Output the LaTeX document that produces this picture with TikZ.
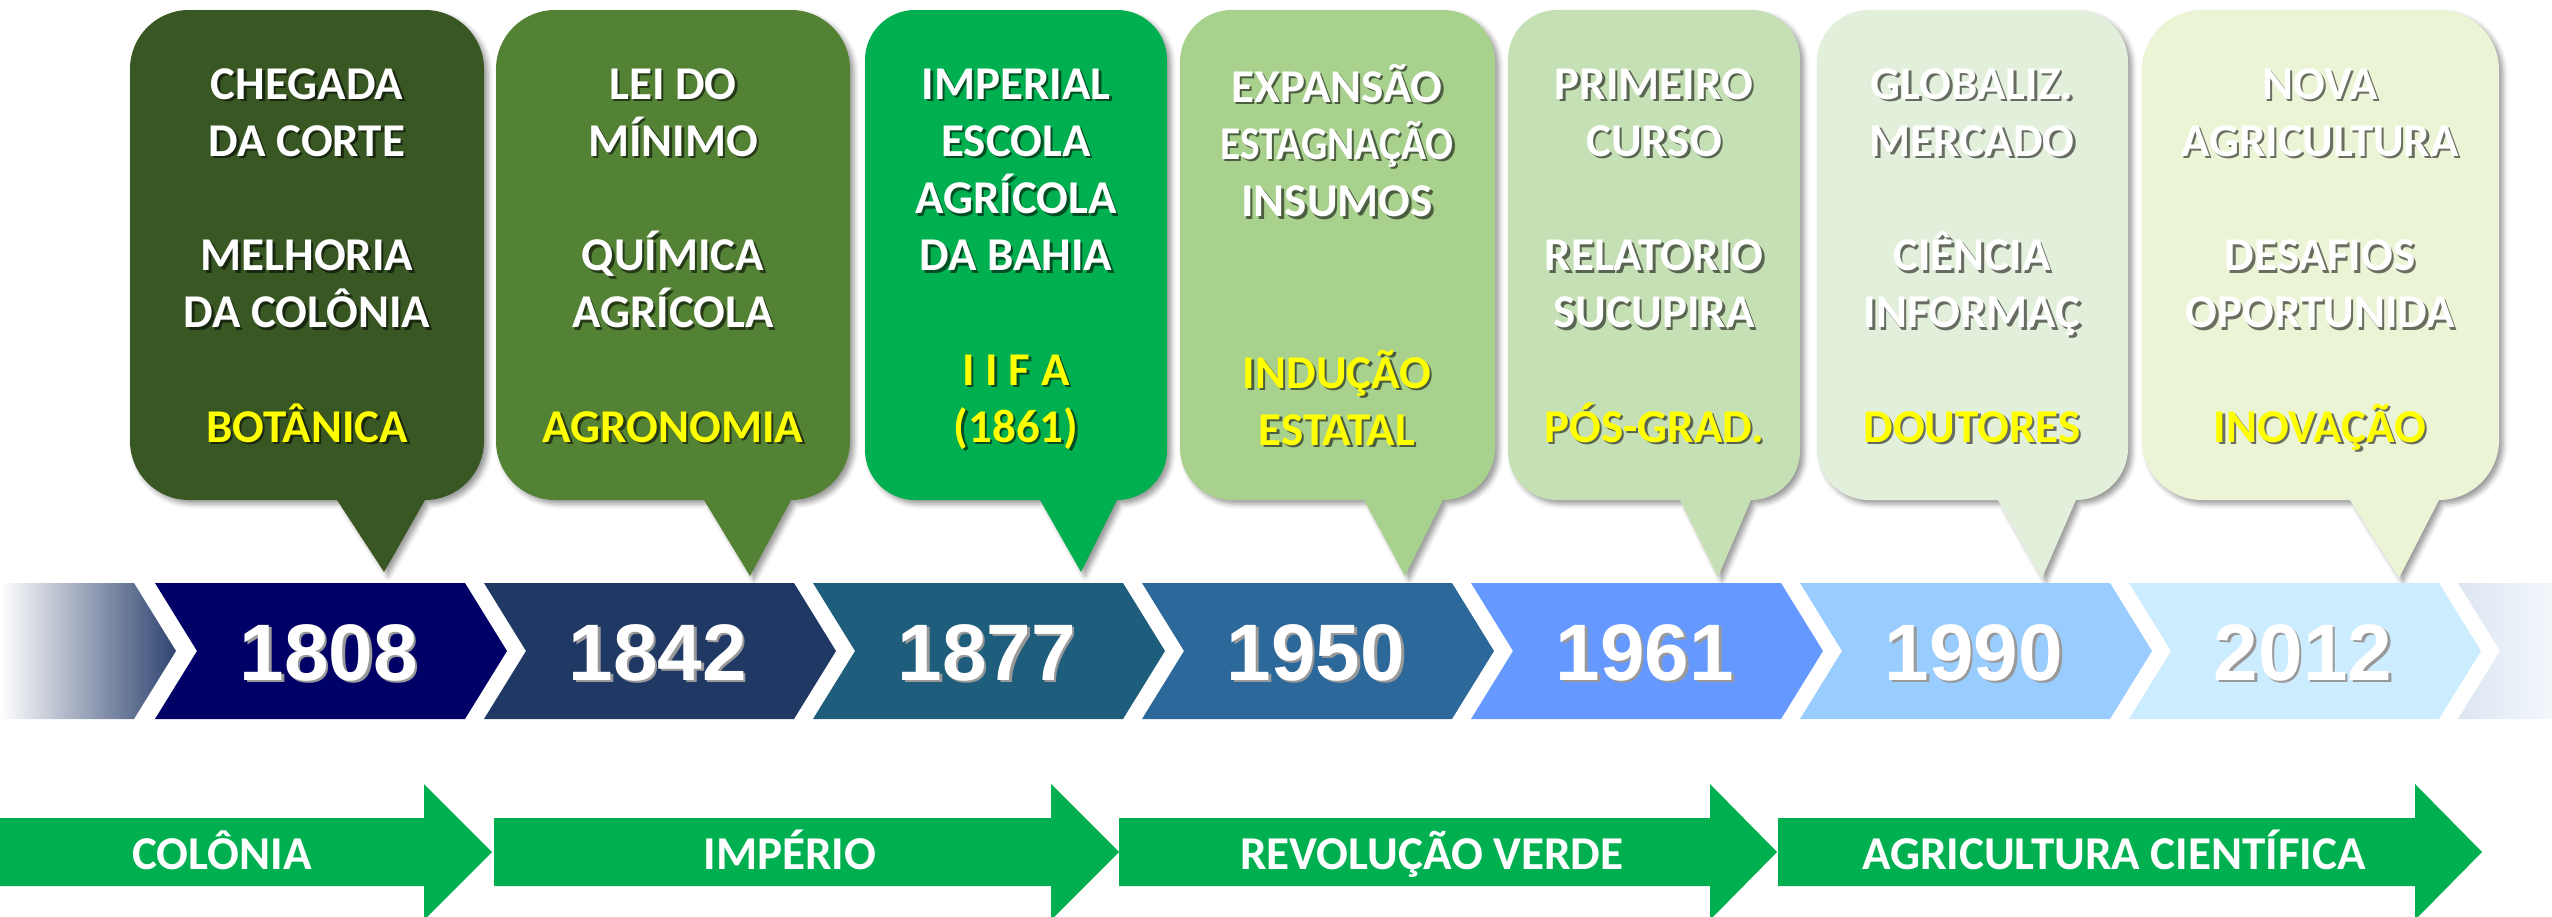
\documentclass[tikz,border=0pt]{standalone}
\usepackage{fontspec}
\usetikzlibrary{shadows.blur}
\newfontfamily\calibrifont{Carlito}
\newfontfamily\arialfont{Liberation Sans}
\definecolor{BubbleA}{HTML}{385723}
\definecolor{BubbleB}{HTML}{548235}
\definecolor{BubbleC}{HTML}{00B050}
\definecolor{BubbleD}{HTML}{A9D18E}
\definecolor{BubbleE}{HTML}{C5E0B4}
\definecolor{BubbleF}{HTML}{E2EFDA}
\definecolor{BubbleG}{HTML}{EBF5D6}
\definecolor{YearA}{HTML}{000066}
\definecolor{YearB}{HTML}{203864}
\definecolor{YearC}{HTML}{1F5D7C}
\definecolor{YearD}{HTML}{2D689B}
\definecolor{YearE}{HTML}{6699FF}
\definecolor{YearF}{HTML}{99CCFF}
\definecolor{YearG}{HTML}{CCECFF}
\definecolor{FadeLeft}{HTML}{2F4470}
\definecolor{FadeRight}{HTML}{DCE6F2}
\definecolor{FadeEnd}{HTML}{F3F7FC}
\definecolor{EraGreen}{HTML}{00B050}
\definecolor{Highlight}{HTML}{FFFF00}
\colorlet{txtshadow}{black!40}
\newcommand{\shtext}[1]{\rlap{\kern0.7pt\raisebox{-0.7pt}{\textcolor{txtshadow}{#1}}}#1}

\begin{document}
\begin{tikzpicture}[x = 0.1mm, y = 0.1mm]
\tikzstyle{BubbleStyle} = [blur shadow = {shadow xshift = 0.4mm, shadow yshift = -0.4mm, shadow blur radius = 0.5mm, shadow opacity = 40}]
\tikzstyle{YearStyle} = [anchor = base, inner sep = 0pt, text = white, font = \arialfont\bfseries\fontsize{22.8pt}{27pt}\selectfont, execute at begin node = {\colorlet{txtshadow}{black!40}}]
\tikzstyle{EraStyle} = [fill = EraGreen]
\tikzstyle{EraText} = [anchor = base, inner sep = 0pt, text = white, font = \calibrifont\bfseries\fontsize{13.4pt}{16pt}\selectfont]
\tikzset{BubbleText/.style = {anchor = north, inner sep = 0pt, align = center, text = white, font = \calibrifont\bfseries\fontsize{13.37pt}{16.27pt}\selectfont, execute at begin node = {\colorlet{txtshadow}{#1!45!black}}}}
\useasboundingbox (0,0) rectangle (2552,916);
\fill[BubbleA, BubbleStyle] (130,475) -- (130,847) arc[start angle = 180, end angle = 90, radius = 59] -- (425,906) arc[start angle = 90, end angle = 0, radius = 59] -- (484,475) arc[start angle = 0, end angle = -90, radius = 59] -- (384,344) -- (337,416) -- (189,416) arc[start angle = 270, end angle = 180, radius = 59] -- cycle;
\fill[BubbleB, BubbleStyle] (496,475) -- (496,847) arc[start angle = 180, end angle = 90, radius = 59] -- (791,906) arc[start angle = 90, end angle = 0, radius = 59] -- (850,475) arc[start angle = 0, end angle = -90, radius = 59] -- (750,340) -- (704,416) -- (555,416) arc[start angle = 270, end angle = 180, radius = 59] -- cycle;
\fill[BubbleC, BubbleStyle] (865,466) -- (865,856) arc[start angle = 180, end angle = 90, radius = 50] -- (1117,906) arc[start angle = 90, end angle = 0, radius = 50] -- (1167,466) arc[start angle = 0, end angle = -90, radius = 50] -- (1081,344) -- (1040,416) -- (915,416) arc[start angle = 270, end angle = 180, radius = 50] -- cycle;
\fill[BubbleD, BubbleStyle] (1180,468) -- (1180,854) arc[start angle = 180, end angle = 90, radius = 52] -- (1443,906) arc[start angle = 90, end angle = 0, radius = 52] -- (1495,468) arc[start angle = 0, end angle = -90, radius = 52] -- (1405,340) -- (1364,416) -- (1232,416) arc[start angle = 270, end angle = 180, radius = 52] -- cycle;
\fill[BubbleE, BubbleStyle] (1508,465) -- (1508,857) arc[start angle = 180, end angle = 90, radius = 49] -- (1751,906) arc[start angle = 90, end angle = 0, radius = 49] -- (1800,465) arc[start angle = 0, end angle = -90, radius = 49] -- (1718,339) -- (1680,416) -- (1557,416) arc[start angle = 270, end angle = 180, radius = 49] -- cycle;
\fill[BubbleF, BubbleStyle] (1817,468) -- (1817,854) arc[start angle = 180, end angle = 90, radius = 52] -- (2076,906) arc[start angle = 90, end angle = 0, radius = 52] -- (2128,468) arc[start angle = 0, end angle = -90, radius = 52] -- (2042,338) -- (1998,416) -- (1869,416) arc[start angle = 270, end angle = 180, radius = 52] -- cycle;
\fill[BubbleG, BubbleStyle] (2142,476) -- (2142,846) arc[start angle = 180, end angle = 90, radius = 60] -- (2439,906) arc[start angle = 90, end angle = 0, radius = 60] -- (2499,476) arc[start angle = 0, end angle = -90, radius = 60] -- (2399,338) -- (2350,416) -- (2202,416) arc[start angle = 270, end angle = 180, radius = 60] -- cycle;
\node[BubbleText = BubbleA] (b1808) at (307,857.5) {\strut\shtext{CHEGADA}\\ \shtext{DA CORTE}\\ \\ \shtext{MELHORIA}\\ \shtext{DA COLÔNIA}\\ \\ \color{Highlight}\shtext{BOTÂNICA}};
\node[BubbleText = BubbleB] (b1842) at (673,857.5) {\strut\shtext{LEI DO}\\ \shtext{MÍNIMO}\\ \\ \shtext{QUÍMICA}\\ \shtext{AGRÍCOLA}\\ \\ \color{Highlight}\shtext{AGRONOMIA}};
\node[BubbleText = BubbleC] (b1877) at (1016,857.5) {\strut\shtext{IMPERIAL}\\ \shtext{ESCOLA}\\ \shtext{AGRÍCOLA}\\ \shtext{DA BAHIA}\\ \\ \color{Highlight}\shtext{I I F A}\\ \color{Highlight}\shtext{(1861)}};
\node[BubbleText = BubbleD] (b1950) at (1337,854.5) {\strut\shtext{EXPANSÃO}\\ \shtext{\scalebox{0.88}[1]{ESTAGNAÇÃO}}\\ \shtext{INSUMOS}\\ \\ \\ \color{Highlight}\shtext{INDUÇÃO}\\ \color{Highlight}\shtext{ESTATAL}};
\node[BubbleText = BubbleE] (b1961) at (1654,857.5) {\strut\shtext{PRIMEIRO}\\ \shtext{CURSO}\\ \\ \shtext{RELATORIO}\\ \shtext{SUCUPIRA}\\ \\ \color{Highlight}\shtext{PÓS-GRAD.}};
\node[BubbleText = BubbleF] (b1990) at (1972,857.5) {\strut\shtext{GLOBALIZ.}\\ \shtext{MERCADO}\\ \\ \shtext{CIÊNCIA}\\ \shtext{INFORMAÇ}\\ \\ \color{Highlight}\shtext{DOUTORES}};
\node[BubbleText = BubbleG] (b2012) at (2320,857.5) {\strut\shtext{NOVA}\\ \shtext{AGRICULTURA}\\ \\ \shtext{DESAFIOS}\\ \shtext{OPORTUNIDA}\\ \\ \color{Highlight}\shtext{INOVAÇÃO}};
\shade[left color = white, right color = FadeLeft] (0,333) -- (134,333) -- (176,265) -- (134,197) -- (0,197) -- cycle;
\fill[YearA] (155,333) -- (465,333) -- (507,265) -- (465,197) -- (155,197) -- (197,265) -- cycle;
\fill[YearB] (484,333) -- (794,333) -- (836,265) -- (794,197) -- (484,197) -- (526,265) -- cycle;
\fill[YearC] (813,333) -- (1123,333) -- (1165,265) -- (1123,197) -- (813,197) -- (855,265) -- cycle;
\fill[YearD] (1142,333) -- (1452,333) -- (1494,265) -- (1452,197) -- (1142,197) -- (1184,265) -- cycle;
\fill[YearE] (1471,333) -- (1781,333) -- (1823,265) -- (1781,197) -- (1471,197) -- (1513,265) -- cycle;
\fill[YearF] (1800,333) -- (2110,333) -- (2152,265) -- (2110,197) -- (1800,197) -- (1842,265) -- cycle;
\fill[YearG] (2129,333) -- (2439,333) -- (2481,265) -- (2439,197) -- (2129,197) -- (2171,265) -- cycle;
\shade[left color = FadeRight, right color = FadeEnd] (2458,333) -- (2552,333) -- (2552,197) -- (2458,197) -- (2500,265) -- cycle;
\node[YearStyle] (y1808) at (329,235.5) {\shtext{1808}};
\node[YearStyle] (y1842) at (658,235.5) {\shtext{1842}};
\node[YearStyle] (y1877) at (987,235.5) {\shtext{1877}};
\node[YearStyle] (y1950) at (1316,235.5) {\shtext{1950}};
\node[YearStyle] (y1961) at (1645,235.5) {\shtext{1961}};
\node[YearStyle] (y1990) at (1974,235.5) {\shtext{1990}};
\node[YearStyle] (y2012) at (2303,235.5) {\shtext{2012}};
\fill[EraStyle] (0,98) -- (424,98) -- (424,132) -- (492,64) -- (424,-4) -- (424,30) -- (0,30) -- cycle;
\fill[EraStyle] (494,98) -- (1051,98) -- (1051,132) -- (1119,64) -- (1051,-4) -- (1051,30) -- (494,30) -- cycle;
\fill[EraStyle] (1119,98) -- (1710,98) -- (1710,132) -- (1777,64) -- (1710,-4) -- (1710,30) -- (1119,30) -- cycle;
\fill[EraStyle] (1778,98) -- (2415,98) -- (2415,132) -- (2482,64) -- (2415,-4) -- (2415,30) -- (1778,30) -- cycle;
\node[EraText] (colonia) at (222,47) {COLÔNIA};
\node[EraText] (imperio) at (790,47) {IMPÉRIO};
\node[EraText] (revolucao) at (1432,47) {REVOLUÇÃO VERDE};
\node[EraText] (cientifica) at (2114,47) {AGRICULTURA CIENTÍFICA};
\end{tikzpicture}
\end{document}
